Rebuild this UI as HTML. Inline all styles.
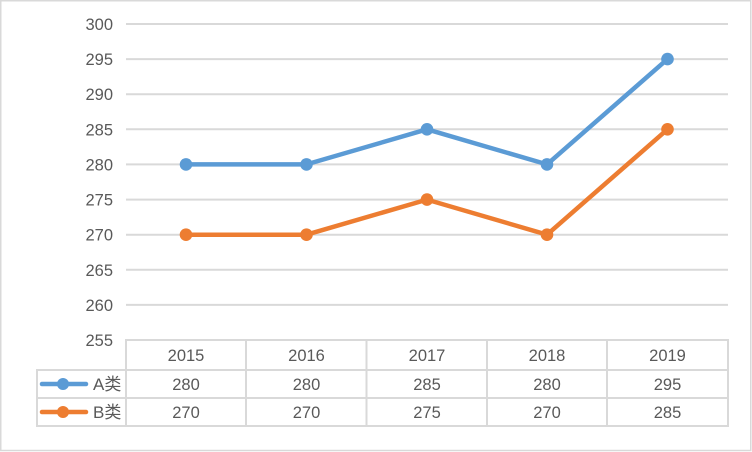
<!DOCTYPE html>
<html>
<head>
<meta charset="utf-8">
<style>
html,body{margin:0;padding:0;background:#fff;}
svg{display:block;}
text{font-family:"Liberation Sans","Noto Sans CJK SC",sans-serif;font-size:16.5px;fill:#595959;}
</style>
</head>
<body>
<svg width="752" height="452" viewBox="0 0 752 452" xmlns="http://www.w3.org/2000/svg">
  <rect x="0" y="0" width="752" height="452" fill="#fff"/>
  <rect x="0.75" y="0.75" width="750" height="449.75" fill="none" stroke="#D9D9D9" stroke-width="1.5"/>

  <!-- gridlines -->
  <g stroke="#D9D9D9" stroke-width="2">
    <line x1="126" y1="24" x2="728" y2="24"/>
    <line x1="126" y1="59.1" x2="728" y2="59.1"/>
    <line x1="126" y1="94.2" x2="728" y2="94.2"/>
    <line x1="126" y1="129.3" x2="728" y2="129.3"/>
    <line x1="126" y1="164.4" x2="728" y2="164.4"/>
    <line x1="126" y1="199.6" x2="728" y2="199.6"/>
    <line x1="126" y1="234.7" x2="728" y2="234.7"/>
    <line x1="126" y1="269.8" x2="728" y2="269.8"/>
    <line x1="126" y1="304.9" x2="728" y2="304.9"/>
  </g>

  <!-- y labels -->
  <g text-anchor="end">
    <text x="113" y="30">300</text>
    <text x="113" y="65.1">295</text>
    <text x="113" y="100.2">290</text>
    <text x="113" y="135.3">285</text>
    <text x="113" y="170.4">280</text>
    <text x="113" y="205.6">275</text>
    <text x="113" y="240.7">270</text>
    <text x="113" y="275.8">265</text>
    <text x="113" y="310.9">260</text>
    <text x="113" y="346">255</text>
  </g>

  <!-- table -->
  <g stroke="#D9D9D9" stroke-width="2">
    <line x1="126" y1="340" x2="729" y2="340"/>
    <line x1="36" y1="370" x2="729" y2="370"/>
    <line x1="36" y1="398" x2="729" y2="398"/>
    <line x1="36" y1="426" x2="729" y2="426"/>
    <line x1="37" y1="369" x2="37" y2="427"/>
    <line x1="126" y1="339" x2="126" y2="427"/>
    <line x1="246" y1="339" x2="246" y2="427"/>
    <line x1="366.5" y1="339" x2="366.5" y2="427"/>
    <line x1="487" y1="339" x2="487" y2="427"/>
    <line x1="607" y1="339" x2="607" y2="427"/>
    <line x1="728" y1="339" x2="728" y2="427"/>
  </g>
  <g text-anchor="middle">
    <text x="186" y="361">2015</text>
    <text x="306.5" y="361">2016</text>
    <text x="427" y="361">2017</text>
    <text x="547" y="361">2018</text>
    <text x="667.5" y="361">2019</text>
    <text x="186" y="390">280</text>
    <text x="306.5" y="390">280</text>
    <text x="427" y="390">285</text>
    <text x="547" y="390">280</text>
    <text x="667.5" y="390">295</text>
    <text x="186" y="418">270</text>
    <text x="306.5" y="418">270</text>
    <text x="427" y="418">275</text>
    <text x="547" y="418">270</text>
    <text x="667.5" y="418">285</text>
  </g>

  <!-- legend keys -->
  <line x1="42" y1="384" x2="86" y2="384" stroke="#5B9BD5" stroke-width="4.5" stroke-linecap="round"/>
  <circle cx="63" cy="384" r="6" fill="#5B9BD5"/>
  <text x="93" y="390" style="font-size:17px">A类</text>
  <line x1="42" y1="412" x2="86" y2="412" stroke="#ED7D31" stroke-width="4.5" stroke-linecap="round"/>
  <circle cx="63" cy="412" r="6" fill="#ED7D31"/>
  <text x="93" y="418" style="font-size:17px">B类</text>

  <!-- series A -->
  <polyline points="186,164.4 306.5,164.4 427,129.3 547,164.4 667.5,59.1" fill="none" stroke="#5B9BD5" stroke-width="4.5" stroke-linejoin="round" stroke-linecap="round"/>
  <g fill="#5B9BD5">
    <circle cx="186" cy="164.4" r="6.3"/>
    <circle cx="306.5" cy="164.4" r="6.3"/>
    <circle cx="427" cy="129.3" r="6.3"/>
    <circle cx="547" cy="164.4" r="6.3"/>
    <circle cx="667.5" cy="59.1" r="6.3"/>
  </g>

  <!-- series B -->
  <polyline points="186,234.7 306.5,234.7 427,199.6 547,234.7 667.5,129.3" fill="none" stroke="#ED7D31" stroke-width="4.5" stroke-linejoin="round" stroke-linecap="round"/>
  <g fill="#ED7D31">
    <circle cx="186" cy="234.7" r="6.3"/>
    <circle cx="306.5" cy="234.7" r="6.3"/>
    <circle cx="427" cy="199.6" r="6.3"/>
    <circle cx="547" cy="234.7" r="6.3"/>
    <circle cx="667.5" cy="129.3" r="6.3"/>
  </g>
</svg>
</body>
</html>
